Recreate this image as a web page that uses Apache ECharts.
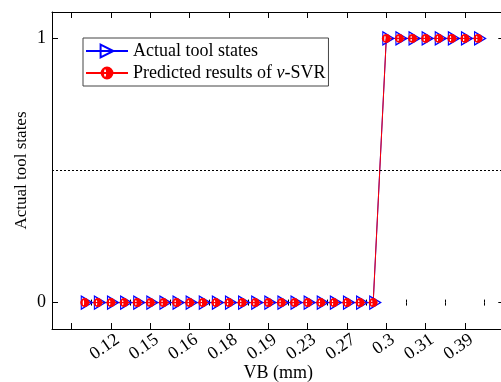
<!DOCTYPE html>
<html><head><meta charset="utf-8">
<script src="https://cdn.jsdelivr.net/npm/echarts@6/dist/echarts.min.js"></script>
<style>html,body{margin:0;padding:0;background:#fff}#c{width:501px;height:382px}</style>
</head><body><div id="c"></div>
<script>
// ---- data ----
const sampleIndex = [1,2,3,4,5,6,7,8,9,10,11,12,13,14,15,16,17,18,19,20,21,22,23,24,25,26,27,28,29,30,31];
const actualStates = [0,0,0,0,0,0,0,0,0,0,0,0,0,0,0,0,0,0,0,0,0,0,0,1,1,1,1,1,1,1,1];
const predictedStates = [0,0,0,0,0,0,0,0,0,0,0,0,0,0,0,0,0,0,0,0,0,0,0,1,1,1,1,1,1,1,1];
const majorTickPositions = [0,3,6,9,12,15,18,21,24,27,30];
const minorTickPositions = [1.5,4.5,7.5,10.5,13.5,16.5,19.5,22.5,25.5,28.5,31.5];
const labelPositions = [3.5,6.5,9.5,12.5,15.5,18.5,21.5,24.5,27.5,30.5];
const tickLabels = ['0.12','0.15','0.16','0.18','0.19','0.23','0.27','0.3','0.31','0.39'];
const yTicks = [0,1];
const threshold = 0.5;

const FONT = "'Liberation Serif','Times New Roman',serif";
const chart = echarts.init(document.getElementById('c'), null, {renderer:'canvas'});

function zip(xs, ys){ return xs.map((x,i)=>[x, ys[i]]); }
const labelMap = {};
labelPositions.forEach((p,i)=>{ labelMap[p] = tickLabels[i]; });

const XMIN = -1.5, XMAX = 33;
const axisBlack = {color:'#000', width:1};
function xAx(pos, len, ticks, extra){
  return Object.assign({
    type:'value', min:XMIN, max:XMAX, position:pos, gridIndex:0,
    axisLine:{show:true, onZero:false, lineStyle:axisBlack},
    axisTick:{show:true, inside:true, length:len, customValues:ticks, lineStyle:axisBlack},
    axisLabel:{show:false},
    splitLine:{show:false}
  }, extra||{});
}

const option = {
  animation:false,
  backgroundColor:'#fff',
  grid:{left:52, top:12, right:-3.3, bottom:53, containLabel:false, outerBoundsMode:'none'},
  legend:{
    orient:'vertical', left:83, top:38,
    padding:[4,3,4,2], itemGap:4, itemWidth:42, itemHeight:16,
    borderColor:'#444', borderWidth:1, backgroundColor:'#fff',
    data:['Actual tool states','Predicted results of v-SVR'],
    formatter:function(name){ return name.indexOf('v-SVR')>=0 ? 'Predicted results of {i|v}-SVR' : name; },
    textStyle:{fontFamily:FONT, fontSize:18, color:'#000',
      rich:{i:{fontFamily:FONT, fontSize:18, fontStyle:'italic', color:'#000'}}}
  },
  xAxis:[
    xAx('bottom', 6, majorTickPositions, {
      axisLabel:{show:true, customValues:labelPositions, formatter:v=>labelMap[v]||'',
        rotate:35, margin:9, fontFamily:FONT, fontSize:18, color:'#000'},
      name:'VB (mm)', nameLocation:'middle', nameGap:35, nameMoveOverlap:false,
      nameTextStyle:{fontFamily:FONT, fontSize:18, color:'#000'}
    }),
    xAx('bottom', 3, minorTickPositions, {axisLine:{show:false}}),
    xAx('top', 6, majorTickPositions),
    xAx('top', 3, minorTickPositions, {axisLine:{show:false}})
  ],
  yAxis:[
    {type:'value', min:-0.1, max:1.1, position:'left',
     axisLine:{show:true, onZero:false, lineStyle:axisBlack},
     axisTick:{show:true, inside:true, length:6, customValues:yTicks, lineStyle:axisBlack},
     axisLabel:{show:true, customValues:yTicks, margin:6, fontFamily:FONT, fontSize:18, color:'#000'},
     splitLine:{show:false},
     name:'Actual tool states', nameLocation:'middle', nameGap:22, nameRotate:90, nameMoveOverlap:false,
     nameTextStyle:{fontFamily:FONT, fontSize:17, color:'#000'}},
    {type:'value', min:-0.1, max:1.1, position:'right',
     axisLine:{show:true, onZero:false, lineStyle:axisBlack},
     axisTick:{show:true, inside:true, length:6, customValues:yTicks, lineStyle:axisBlack},
     axisLabel:{show:false}, splitLine:{show:false}}
  ],
  series:[
    {name:'Actual tool states', type:'line', xAxisIndex:0, yAxisIndex:0,
     data:zip(sampleIndex, actualStates),
     symbol:'path://M0,0L12,7L0,14Z', symbolSize:[11,13], symbolOffset:[2,0],
     showAllSymbol:true,
     lineStyle:{color:'#0000ff', width:1},
     itemStyle:{color:'rgba(255,255,255,0)', borderColor:'#0000ff', borderWidth:1.2},
     emphasis:{disabled:true},
     markLine:{silent:true, symbol:['none','none'], label:{show:false},
       lineStyle:{color:'#000', width:1, type:[2,2]},
       data:[{yAxis:threshold}]}
    },
    {name:'Predicted results of v-SVR', type:'line', xAxisIndex:0, yAxisIndex:0,
     data:zip(sampleIndex, predictedStates),
     symbol:'path://M0,10A10,10,0,1,1,20,10A10,10,0,1,1,0,10ZM5.4,10A1.6,6,0,1,0,8.6,10A1.6,6,0,1,0,5.4,10Z',
     symbolSize:9, showAllSymbol:true,
     lineStyle:{color:'#ff0000', width:1},
     itemStyle:{color:'#ff0000', borderWidth:0},
     emphasis:{disabled:true}
    }
  ]
};
chart.setOption(option);
</script></body></html>
